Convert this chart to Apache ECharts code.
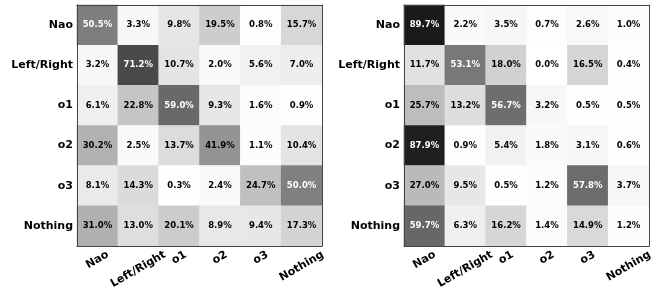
<!DOCTYPE html>
<html>
<head>
<meta charset="utf-8">
<script src="https://cdn.jsdelivr.net/npm/echarts@6/dist/echarts.min.js"></script>
<style>
  html, body { margin: 0; padding: 0; background: #fff; }
  #chart { width: 662px; height: 291px; }
</style>
</head>
<body>
<div id="chart"></div>
<script>
const classes = ['Nao', 'Left/Right', 'o1', 'o2', 'o3', 'Nothing'];

// rows = true class (y), columns = predicted (x), in percent
const leftMatrix = [
  [50.5, 3.3, 9.8, 19.5, 0.8, 15.7],
  [3.2, 71.2, 10.7, 2.0, 5.6, 7.0],
  [6.1, 22.8, 59.0, 9.3, 1.6, 0.9],
  [30.2, 2.5, 13.7, 41.9, 1.1, 10.4],
  [8.1, 14.3, 0.3, 2.4, 24.7, 50.0],
  [31.0, 13.0, 20.1, 8.9, 9.4, 17.3]
];
const rightMatrix = [
  [89.7, 2.2, 3.5, 0.7, 2.6, 1.0],
  [11.7, 53.1, 18.0, 0.0, 16.5, 0.4],
  [25.7, 13.2, 56.7, 3.2, 0.5, 0.5],
  [87.9, 0.9, 5.4, 1.8, 3.1, 0.6],
  [27.0, 9.5, 0.5, 1.2, 57.8, 3.7],
  [59.7, 6.3, 16.2, 1.4, 14.9, 1.2]
];

const font = '"DejaVu Sans", sans-serif';
const frameColor = '#444';

// matplotlib centres rotated tick labels, so shift each one by its own width
const ctx = document.createElement('canvas').getContext('2d');
ctx.font = 'bold 11px "DejaVu Sans"';
const rich = {};
classes.forEach(function (c, i) {
  const s = 0.25 * ctx.measureText(c).width;
  rich['t' + i] = {
    fontFamily: font, fontWeight: 'bold', fontSize: 11, color: '#000',
    padding: [1.732 * s, s, 0, 0]
  };
});

function toData(m) {
  const out = [];
  m.forEach(function (row, y) {
    row.forEach(function (v, x) {
      out.push({ value: [x, y, v], label: { color: v >= 50 ? '#fff' : '#000' } });
    });
  });
  return out;
}

function axesFor(gridIndex) {
  const base = {
    type: 'category', data: classes, gridIndex: gridIndex, z: 10,
    axisLine: { lineStyle: { color: frameColor, width: 1 } },
    axisTick: { inside: true, length: 4, alignWithLabel: true, lineStyle: { color: frameColor } },
    splitLine: { show: false }
  };
  const x = [
    Object.assign({}, base, {
      position: 'bottom',
      axisLabel: {
        rotate: 30, align: 'center', verticalAlign: 'middle', margin: 8,
        formatter: function (v, i) { return '{t' + i + '|' + v + '}'; },
        rich: rich
      }
    }),
    Object.assign({}, base, { position: 'top', axisLabel: { show: false } })
  ];
  const y = [
    Object.assign({}, base, {
      position: 'left', inverse: true,
      axisTick: { inside: false, length: 3, alignWithLabel: true, lineStyle: { color: frameColor } },
      axisLabel: { fontFamily: font, fontWeight: 'bold', fontSize: 11, color: '#000', margin: 4 }
    }),
    Object.assign({}, base, { position: 'right', inverse: true, axisLabel: { show: false } })
  ];
  return { x: x, y: y };
}

const a0 = axesFor(0);
const a1 = axesFor(1);

const chart = echarts.init(document.getElementById('chart'), null, { renderer: 'canvas' });
chart.setOption({
  animation: false,
  grid: [
    { left: 77, top: 5, width: 245, height: 245 },
    { left: 404, top: 5, width: 245, height: 245 }
  ],
  xAxis: a0.x.concat(a1.x),
  yAxis: a0.y.concat(a1.y),
  visualMap: [
    { show: false, seriesIndex: 0, min: 0, max: 100, inRange: { color: ['#ffffff', '#000000'] } },
    { show: false, seriesIndex: 1, min: 0, max: 100, inRange: { color: ['#ffffff', '#000000'] } }
  ],
  series: [
    {
      type: 'heatmap', xAxisIndex: 0, yAxisIndex: 0, data: toData(leftMatrix),
      label: {
        show: true, fontFamily: font, fontWeight: 'bold', fontSize: 8.5,
        formatter: function (p) { return p.value[2].toFixed(1) + '%'; }
      }
    },
    {
      type: 'heatmap', xAxisIndex: 2, yAxisIndex: 2, data: toData(rightMatrix),
      label: {
        show: true, fontFamily: font, fontWeight: 'bold', fontSize: 8.5,
        formatter: function (p) { return p.value[2].toFixed(1) + '%'; }
      }
    }
  ]
});
</script>
</body>
</html>
